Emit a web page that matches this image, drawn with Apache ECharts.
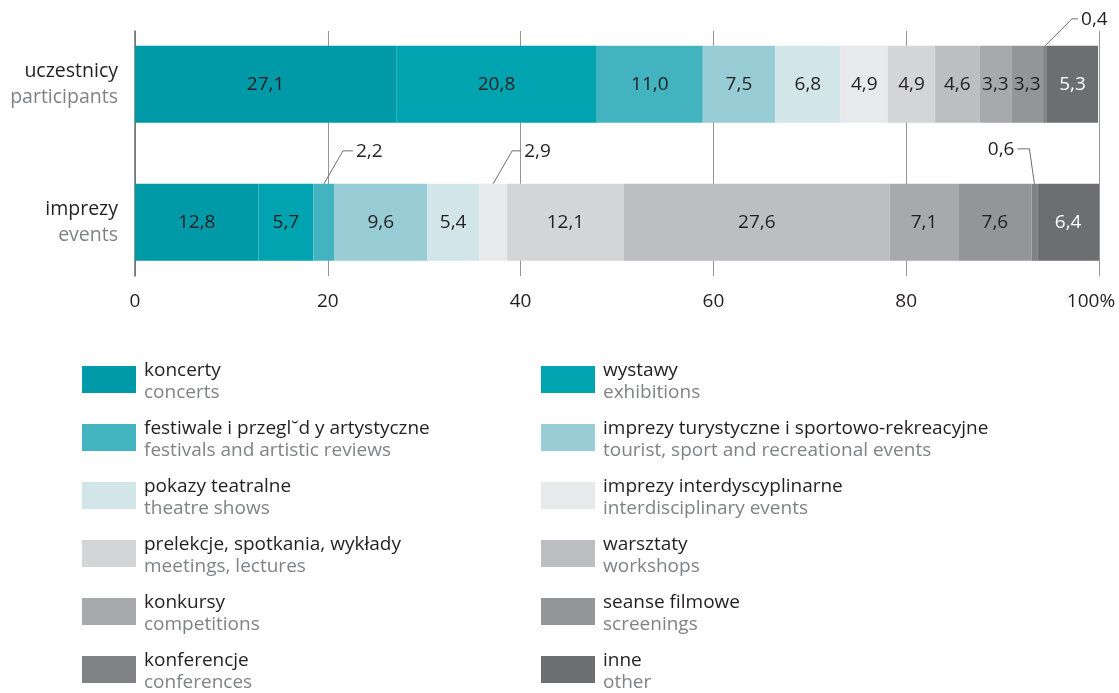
<!DOCTYPE html>
<html>
<head>
<meta charset="utf-8">
<title>uczestnicy i imprezy według rodzajów</title>
<script src="https://cdn.jsdelivr.net/npm/echarts@6/dist/echarts.min.js"></script>
<style>
  html, body { margin: 0; padding: 0; background: #ffffff; }
  #chart { width: 1119px; height: 693px; }
</style>
</head>
<body>
<div id="chart"></div>
<script>
// Categories (bars) with their English subtitles
const categories = ['uczestnicy', 'imprezy'];
const categoriesEn = ['participants', 'events'];

// Event types in stacking order
const typeNames = [
  'koncerty',
  'wystawy',
  'festiwale i przegl˘d y artystyczne',
  'imprezy turystyczne i sportowo-rekreacyjne',
  'pokazy teatralne',
  'imprezy interdyscyplinarne',
  'prelekcje, spotkania, wykłady',
  'warsztaty',
  'konkursy',
  'seanse filmowe',
  'konferencje',
  'inne'
];
const typeNamesEn = [
  'concerts',
  'exhibitions',
  'festivals and artistic reviews',
  'tourist, sport and recreational events',
  'theatre shows',
  'interdisciplinary events',
  'meetings, lectures',
  'workshops',
  'competitions',
  'screenings',
  'conferences',
  'other'
];

// Shares in %, same order as typeNames
const participantsShare = [27.1, 20.8, 11.0, 7.5, 6.8, 4.9, 4.9, 4.6, 3.3, 3.3, 0.4, 5.3];
const eventsShare       = [12.8, 5.7, 2.2, 9.6, 5.4, 2.9, 12.1, 27.6, 7.1, 7.6, 0.6, 6.4];

// Axis ticks
const axisMin = 0;
const axisMax = 100;
const axisStep = 20;

// Styling
const FONT = '"Open Sans", "Noto Sans", sans-serif';
const FS = 19;
const TEXT_DARK = '#231f20';
const TEXT_GREY = '#808285';
const typeColors = [
  '#0099a7', '#00a4b0', '#43b4bf', '#98cdd6', '#d2e6ea', '#e8e9eb',
  '#d4d5d7', '#bdbec1', '#a8a9ac', '#939598', '#808285', '#6d6e72'
];
const labelColors = typeColors.map((c, i) => i === typeColors.length - 1 ? '#ffffff' : TEXT_DARK);
const BAR_WIDTH = 77;

// Segments labelled outside the bar with a leader line
const callouts = [
  { type: 10, cat: 0, dx: 27, dy: -27, run: 6 },
  { type: 2,  cat: 1, dx: 19, dy: -33, run: 10 },
  { type: 5,  cat: 1, dx: 19, dy: -33, run: 9 },
  { type: 10, cat: 1, dx: -5, dy: -35, run: -12 }
];

const seriesValues = [participantsShare, eventsShare];
const fmt = v => v.toFixed(1).replace('.', ',');
const isCallout = (t, c) => callouts.some(o => o.type === t && o.cat === c);

const barSeries = typeNames.map((name, t) => ({
  name: name,
  type: 'bar',
  stack: 'total',
  xAxisIndex: 0,
  yAxisIndex: 0,
  barWidth: BAR_WIDTH,
  itemStyle: { color: typeColors[t] },
  label: {
    show: true,
    position: 'inside',
    color: labelColors[t],
    fontFamily: FONT,
    fontSize: FS,
    formatter: p => fmt(p.value)
  },
  emphasis: { disabled: true },
  data: seriesValues.map((vals, c) => ({
    value: vals[t],
    label: { show: !isCallout(t, c) && vals[t] >= 1 }
  }))
}));

// Leader-line labels: start/end of each segment along the stack
const calloutData = callouts.map(o => {
  const vals = seriesValues[o.cat];
  let start = 0;
  for (let i = 0; i < o.type; i++) start += vals[i];
  return [start, start + vals[o.type], o.cat, vals[o.type]];
});

const calloutSeries = {
  type: 'custom',
  name: 'callouts',
  xAxisIndex: 0,
  yAxisIndex: 0,
  clip: false,
  silent: true,
  z: 5,
  encode: { x: [0, 1], y: 2 },
  data: calloutData,
  renderItem: function (params, api) {
    const o = callouts[params.dataIndex];
    const mid = (api.value(0) + api.value(1)) / 2;
    const p = api.coord([mid, api.value(2)]);
    const x0 = p[0];
    const y0 = p[1] - BAR_WIDTH / 2;
    const x1 = x0 + o.dx;
    const y1 = y0 + o.dy;
    const x2 = x1 + o.run;
    const right = o.run >= 0;
    return {
      type: 'group',
      children: [
        {
          type: 'polyline',
          shape: { points: [[x0, y0], [x1, y1], [x2, y1]] },
          style: { stroke: '#6d6e71', lineWidth: 1, fill: null }
        },
        {
          type: 'text',
          style: {
            text: fmt(api.value(3)),
            x: x2 + (right ? 3 : -3),
            y: y1 + 1,
            align: right ? 'left' : 'right',
            verticalAlign: 'middle',
            fill: TEXT_DARK,
            font: FS + 'px ' + FONT
          }
        }
      ]
    };
  }
};

const legendFormatter = name => {
  const i = typeNames.indexOf(name);
  return '{pl|' + name + '}\n{en|' + typeNamesEn[i] + '}';
};
const legendRich = {
  pl: { fontFamily: FONT, fontSize: FS, color: TEXT_DARK, lineHeight: 24, padding: [6, 0, 0, 3] },
  en: { fontFamily: FONT, fontSize: FS, color: TEXT_GREY, lineHeight: 24, padding: [2, 0, 0, 3] }
};
const legendBase = {
  orient: 'vertical',
  top: 355,
  padding: 0,
  itemWidth: 54,
  itemHeight: 27,
  itemGap: 11,
  icon: 'rect',
  selectedMode: false,
  formatter: legendFormatter,
  textStyle: { rich: legendRich }
};

const option = {
  animation: false,
  backgroundColor: '#ffffff',
  textStyle: { fontFamily: FONT },
  legend: [
    Object.assign({}, legendBase, { left: 82, data: typeNames.filter((_, i) => i % 2 === 0) }),
    Object.assign({}, legendBase, { left: 541, data: typeNames.filter((_, i) => i % 2 === 1) })
  ],
  grid: [
    { left: 135, right: 20, top: 15.35, height: 276, containLabel: false },
    { left: 135, right: 20, top: 31, height: 245, containLabel: false }
  ],
  xAxis: [
    { type: 'value', gridIndex: 0, min: axisMin, max: axisMax, show: false },
    {
      type: 'value', gridIndex: 1, min: axisMin, max: axisMax, interval: axisStep,
      axisLine: { show: false },
      axisTick: { show: false },
      splitLine: { show: true, lineStyle: { color: '#939598', width: 1 } },
      axisLabel: {
        margin: 16,
        fontFamily: FONT,
        fontSize: FS,
        color: TEXT_DARK,
        formatter: v => v === axisMax ? '{last|' + v + '%}' : String(v),
        rich: { last: { fontFamily: FONT, fontSize: FS, color: TEXT_DARK, padding: [0, 16, 0, 0] } }
      }
    }
  ],
  yAxis: [
    {
      type: 'category', gridIndex: 0, inverse: true,
      data: categories,
      axisLine: { show: false },
      axisTick: { show: false },
      splitLine: { show: false },
      axisLabel: {
        margin: 17,
        align: 'right',
        formatter: (v, i) => '{pl|' + v + '}\n{en|' + categoriesEn[i] + '}',
        rich: {
          pl: { fontFamily: FONT, fontSize: 19.5, color: TEXT_DARK, lineHeight: 28, align: 'right', padding: [3, 0, 0, 0] },
          en: { fontFamily: FONT, fontSize: 19.5, color: TEXT_GREY, lineHeight: 28, align: 'right', padding: [0, 0, 2, 0] }
        }
      }
    },
    {
      type: 'value', gridIndex: 1, min: 0, max: 1,
      axisLine: { show: true, lineStyle: { color: '#6d6e71', width: 1.5 } },
      axisTick: { show: false },
      axisLabel: { show: false },
      splitLine: { show: false }
    }
  ],
  series: barSeries.concat([calloutSeries])
};

const chart = echarts.init(document.getElementById('chart'), null, { renderer: 'canvas' });
chart.setOption(option);
</script>
</body>
</html>
